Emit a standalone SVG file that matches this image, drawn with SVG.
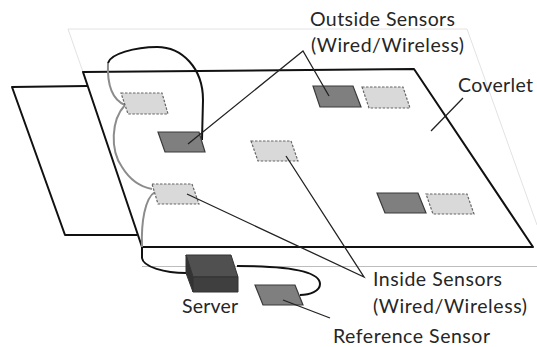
<svg xmlns="http://www.w3.org/2000/svg" width="537" height="347" viewBox="0 0 537 347">
<style>
text{font-family:"Lato","Open Sans",sans-serif;font-size:19.500px;fill:#262626}
.faint{fill:none;stroke:#e2e2e2;stroke-width:1}
.sheet{fill:none;stroke:#111;stroke-width:2;stroke-linejoin:round}
.in{fill:#d9d9d9;stroke:#666;stroke-width:1.2;stroke-dasharray:2.5 1.5}
.out{fill:#7f7f7f;stroke:#3a3a3a;stroke-width:1.2}
.wg{fill:none;stroke:#8c8c8c;stroke-width:2}
.wb{fill:none;stroke:#111;stroke-width:2}
.lead{fill:none;stroke:#222;stroke-width:1.3}
</style>
<rect width="537" height="347" fill="#fff"/>
<g id="back-sheet">
<path class="faint" d="M83 72L68 29H467L537 225"/>
<path d="M142 266.500H537" fill="none" stroke="#bdbdbd"/>
</g>
<g id="under-sheet"><path class="sheet" d="M87 86L12 87L65 235H137"/></g>
<g id="coverlet"><path class="sheet" d="M83 72L414 69L533 247H142Z"/></g>
<g id="connectors">
<path class="wg" d="M108 63C107 85 113 100 125 105"/>
<path class="wg" d="M125 105C111 120 110 150 122 167C130 180 141 187 152 189"/>
<path class="wg" d="M155 192C145 198 141 222 142 247"/>
<path class="wb" d="M108 63C110 54 135 47 157 47C182 47 203 68 203 100L202 140"/>
<path class="wb" d="M142 247V258C143 267 165 273 186 273"/>
<path class="wb" d="M237 266C270 266 320 268 320 284C320 291 310 295 300 295"/>
</g>
<g id="sensor-in-1"><path class="in" d="M121 93H162L168 114H128Z"/></g>
<g id="sensor-out-1"><path class="out" d="M158 132H199L205 152H165Z"/></g>
<g id="sensor-in-2"><path class="in" d="M251 141H291L298 161H258Z"/></g>
<g id="sensor-in-3"><path class="in" d="M152 184H192L199 204H158Z"/></g>
<g id="sensor-out-2"><path class="out" d="M313 86H353L361 107H320Z"/></g>
<g id="sensor-in-4"><path class="in" d="M362 87H403L410 108H369Z"/></g>
<g id="sensor-out-3"><path class="out" d="M377 193H418L426 213H385Z"/></g>
<g id="sensor-in-5"><path class="in" d="M426 194H467L474 214H433Z"/></g>
<g id="sensor-reference"><path class="out" d="M255 285H295L303 305H263Z"/></g>
<g id="server">
<path d="M186 255H231L238 277H193Z" fill="#505050" stroke="#333"/>
<path d="M186 255L193 277V292L186 273Z" fill="#333" stroke="#333"/>
<path d="M193 277H238V292H193Z" fill="#3f3f3f" stroke="#333"/>
</g>
<g id="leaders">
<path d="M188 144L303 51L329 96" class="lead"/>
<path d="M463 98L431 131" class="lead"/>
<path d="M187 194L364 277L286 156" class="lead"/>
<path d="M283 300L330 318" class="lead"/>
</g>
<g id="labels">
<text x="310" y="26" textLength="145">Outside Sensors</text>
<text x="311" y="52" textLength="153">(Wired/Wireless)</text>
<text x="458" y="92" textLength="75">Coverlet</text>
<text x="373" y="286" textLength="129">Inside Sensors</text>
<text x="373" y="313" textLength="154">(Wired/Wireless)</text>
<text x="182" y="313" textLength="56">Server</text>
<text x="333" y="343" textLength="157">Reference Sensor</text>
</g>
</svg>
